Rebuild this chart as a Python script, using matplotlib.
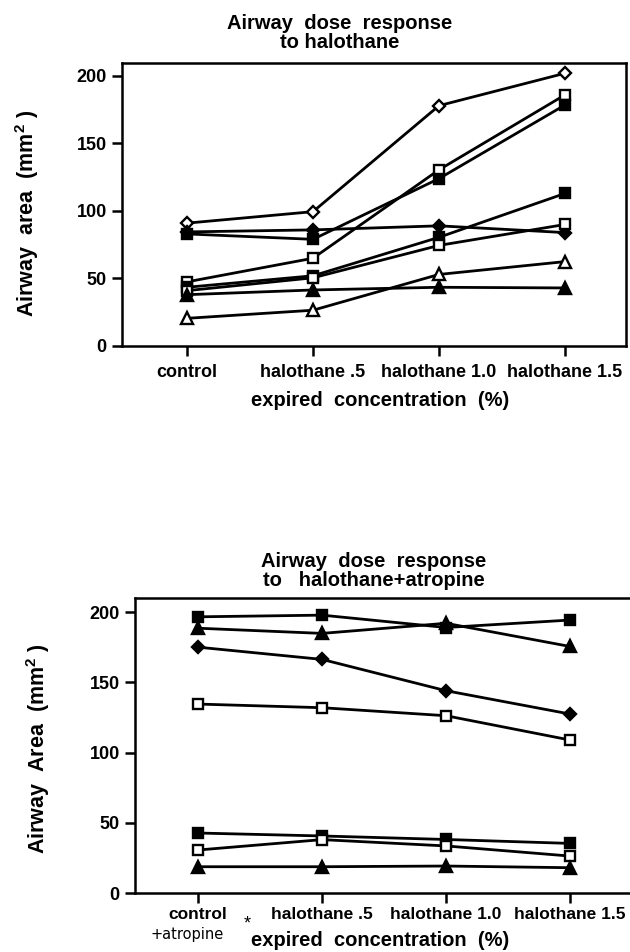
import matplotlib
matplotlib.use('Agg')
import matplotlib.pyplot as plt

plt.rcParams['font.family'] = ['Liberation Sans', 'DejaVu Sans']
plt.rcParams['mathtext.fontset'] = 'custom'
plt.rcParams['mathtext.rm'] = 'Liberation Sans:bold'
plt.rcParams['mathtext.bf'] = 'Liberation Sans:bold'

# categories on the x axis
categories = ['control', 'halothane .5', 'halothane 1.0', 'halothane 1.5']

# top panel: halothane alone (mm^2)
top_s1 = [91, 99.5, 178, 202]
top_s2 = [47.5, 65, 130.5, 186]
top_s3 = [83, 79, 124, 178.5]
top_s4 = [84.5, 86, 89, 84]
top_s5 = [43.5, 52, 80.5, 113]
top_s6 = [41, 50.5, 74.5, 90]
top_s7 = [38, 41.5, 43.5, 43]
top_s8 = [20.5, 26.5, 53, 62.5]

# bottom panel: halothane + atropine (mm^2)
bot_s1 = [196.6, 197.8, 189, 194.3]
bot_s2 = [188.5, 184.8, 192, 175.5]
bot_s3 = [175, 166.3, 144, 127.4]
bot_s4 = [134.5, 131.9, 126.2, 108.9]
bot_s5 = [42.7, 40.6, 38.1, 35.3]
bot_s6 = [30.6, 38, 33.5, 26.3]
bot_s7 = [18.7, 18.7, 19.2, 18]

yticks = [0, 50, 100, 150, 200]

# marker styles (marker, filled)
top_series = [(top_s1, ('D', False)), (top_s2, ('s', False)), (top_s3, ('s', True)),
              (top_s4, ('D', True)), (top_s5, ('s', True)), (top_s6, ('s', False)),
              (top_s7, ('^', True)), (top_s8, ('^', False))]
bot_series = [(bot_s1, ('s', True)), (bot_s2, ('^', True)), (bot_s3, ('D', True)),
              (bot_s4, ('s', False)), (bot_s5, ('s', True)), (bot_s6, ('s', False)),
              (bot_s7, ('^', True))]


def draw(ax, series):
    x = list(range(len(categories)))
    for ys, (mk, filled) in series:
        ms = {'D': 6, 's': 7, '^': 8}[mk]
        ax.plot(x, ys, color='black', lw=2.0, marker=mk, ms=ms,
                mfc='black' if filled else 'white', mec='black', mew=1.7,
                clip_on=False, zorder=3)


def style_axes(ax):
    for side in ['left', 'bottom', 'top', 'right']:
        ax.spines[side].set_linewidth(1.8)
    ax.set_yticks(yticks)
    ax.set_xticks(range(len(categories)))
    ax.tick_params(direction='out', length=7, width=1.8, pad=4)
    for lab in ax.get_yticklabels():
        lab.set_fontsize(13)
        lab.set_fontweight('bold')


W, H = 630, 952
fig = plt.figure(figsize=(6.3, 9.52), dpi=100)

# ---- top panel ----
ax1 = fig.add_axes([122 / W, 1 - 346 / H, (626 - 122) / W, (346 - 63) / H])
draw(ax1, top_series)
style_axes(ax1)
ax1.set_xlim(-65 / 126, (626 - 187) / 126)
ax1.set_ylim(0, 209.6)
ax1.set_xticklabels(categories, fontsize=13, fontweight='bold')
ax1.tick_params(axis='x', pad=6)
fig.text(340 / W, 1 - 33 / H, 'Airway  dose  response\nto halothane', ha='center',
         va='center', fontsize=14.5, fontweight='bold', linespacing=1.05)
fig.text(380 / W, 1 - 400 / H, 'expired  concentration  (%)', ha='center', va='center',
         fontsize=14.5, fontweight='bold')
fig.text(27 / W, 1 - 213 / H, r'Airway  area  (mm$^{\mathbf{2}}$ )', rotation=90,
         ha='center', va='center', fontsize=15.5, fontweight='bold')

# ---- bottom panel ----
ax2 = fig.add_axes([135 / W, 1 - 893 / H, (640 - 135) / W, (893 - 598) / H])
draw(ax2, bot_series)
style_axes(ax2)
ax2.spines['right'].set_visible(False)
ax2.set_xlim(-63 / 124, (640 - 198) / 124)
ax2.set_ylim(0, 210)
ax2.set_xticklabels(categories, fontsize=12.5, fontweight='bold')
ax2.tick_params(axis='x', pad=3)
fig.text(374 / W, 1 - 571 / H, 'Airway  dose  response\nto   halothane+atropine', ha='center',
         va='center', fontsize=14.5, fontweight='bold', linespacing=1.05)
fig.text(187 / W, 1 - 935 / H, '+atropine', ha='center', va='center', fontsize=10.5,
         family=['DejaVu Sans'])
fig.text(247 / W, 1 - 924 / H, '*', ha='center', va='center', fontsize=13)
fig.text(380 / W, 1 - 940 / H, 'expired  concentration  (%)', ha='center', va='center',
         fontsize=14.5, fontweight='bold')
fig.text(38 / W, 1 - 749 / H, r'Airway  Area  (mm$^{\mathbf{2}}$ )', rotation=90,
         ha='center', va='center', fontsize=15.5, fontweight='bold')

fig.savefig('out.png', dpi=100)
